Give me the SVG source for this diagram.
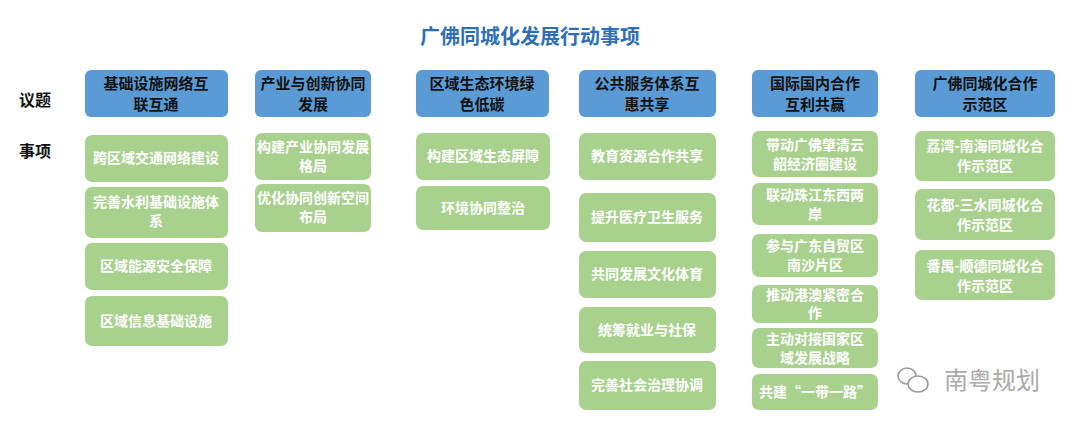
<svg xmlns="http://www.w3.org/2000/svg" width="1080" height="428" viewBox="0 0 1080 428">
<style>
text{font-family:"Noto Sans CJK SC","Liberation Sans",sans-serif;font-weight:bold;text-anchor:middle}
.h rect{fill:#5b9bd5}
.h text{fill:#111;font-size:15px}
.i rect{fill:#a9d18e}
.i text{fill:#fff;font-size:14px}
.lab{fill:#111;font-size:16px}
.wm{font-weight:normal;font-size:24px;fill:#aaa}
</style>
<rect width="1080" height="428" fill="#fff"/>
<text x="530" y="44" font-size="20" fill="#2e6fb5">广佛同城化发展行动事项</text>
<text class="lab" x="35" y="106">议题</text>
<text class="lab" x="35" y="157">事项</text>
<g class="h">
<g id="h1"><rect x="85" y="70" width="143" height="47" rx="6"/><text x="156" y="89">基础设施网络互</text><text x="156" y="110">联互通</text></g>
<g id="h2"><rect x="255" y="70" width="116" height="47" rx="6"/><text x="313" y="89">产业与创新协同</text><text x="313" y="110">发展</text></g>
<g id="h3"><rect x="416" y="70" width="133" height="47" rx="6"/><text x="482" y="89">区域生态环境绿</text><text x="482" y="110">色低碳</text></g>
<g id="h4"><rect x="579" y="70" width="137" height="47" rx="6"/><text x="647" y="89">公共服务体系互</text><text x="647" y="110">惠共享</text></g>
<g id="h5"><rect x="752" y="70" width="126" height="47" rx="6"/><text x="815" y="89">国际国内合作</text><text x="815" y="110">互利共赢</text></g>
<g id="h6"><rect x="915" y="70" width="140" height="47" rx="6"/><text x="985" y="89">广佛同城化合作</text><text x="985" y="110">示范区</text></g>
</g>
<g class="i">
<g id="a1"><rect x="85" y="135" width="143" height="47" rx="7"/><text x="156" y="163">跨区域交通网络建设</text></g>
<g id="a2"><rect x="85" y="187" width="143" height="51" rx="7"/><text x="156" y="207">完善水利基础设施体</text><text x="156" y="226">系</text></g>
<g id="a3"><rect x="85" y="243" width="143" height="47" rx="7"/><text x="156" y="271">区域能源安全保障</text></g>
<g id="a4"><rect x="85" y="296" width="143" height="50" rx="7"/><text x="156" y="326">区域信息基础设施</text></g>
<g id="b1"><rect x="255" y="133" width="116" height="47" rx="7"/><text x="313" y="152">构建产业协同发展</text><text x="313" y="171">格局</text></g>
<g id="b2"><rect x="255" y="184" width="116" height="48" rx="7"/><text x="313" y="203">优化协同创新空间</text><text x="313" y="222">布局</text></g>
<g id="c1"><rect x="416" y="133" width="134" height="47" rx="7"/><text x="483" y="161">构建区域生态屏障</text></g>
<g id="c2"><rect x="416" y="186" width="134" height="44" rx="7"/><text x="483" y="213">环境协同整治</text></g>
<g id="d1"><rect x="579" y="133" width="137" height="47" rx="7"/><text x="647" y="161">教育资源合作共享</text></g>
<g id="d2"><rect x="579" y="193" width="137" height="49" rx="7"/><text x="647" y="222">提升医疗卫生服务</text></g>
<g id="d3"><rect x="579" y="251" width="137" height="47" rx="7"/><text x="647" y="279">共同发展文化体育</text></g>
<g id="d4"><rect x="579" y="307" width="137" height="46" rx="7"/><text x="647" y="335">统筹就业与社保</text></g>
<g id="d5"><rect x="579" y="361" width="137" height="49" rx="7"/><text x="647" y="390">完善社会治理协调</text></g>
<g id="e1"><rect x="752" y="131" width="126" height="46" rx="7"/><text x="815" y="150">带动广佛肇清云</text><text x="815" y="169">韶经济圈建设</text></g>
<g id="e2"><rect x="752" y="183" width="126" height="42" rx="7"/><text x="815" y="200">联动珠江东西两</text><text x="815" y="219">岸</text></g>
<g id="e3"><rect x="752" y="234" width="126" height="43" rx="7"/><text x="815" y="251">参与广东自贸区</text><text x="815" y="270">南沙片区</text></g>
<g id="e4"><rect x="752" y="285" width="126" height="38" rx="7"/><text x="815" y="300">推动港澳紧密合</text><text x="815" y="318">作</text></g>
<g id="e5"><rect x="752" y="328" width="126" height="40" rx="7"/><text x="815" y="344">主动对接国家区</text><text x="815" y="363">域发展战略</text></g>
<g id="e6"><rect x="752" y="374" width="126" height="36" rx="7"/><text x="815" y="397">共建“一带一路”</text></g>
<g id="f1"><rect x="915" y="131" width="140" height="50" rx="7"/><text x="985" y="151">荔湾-南海同城化合</text><text x="985" y="171">作示范区</text></g>
<g id="f2"><rect x="915" y="189" width="140" height="51" rx="7"/><text x="985" y="210">花都-三水同城化合</text><text x="985" y="230">作示范区</text></g>
<g id="f3"><rect x="915" y="250" width="140" height="50" rx="7"/><text x="985" y="271">番禺-顺德同城化合</text><text x="985" y="291">作示范区</text></g>
</g>
<g id="connectors"></g>
<g id="watermark" fill="none" stroke="#999" stroke-width="1.5">
<ellipse cx="907" cy="376" rx="9" ry="8"/>
<ellipse cx="918" cy="384" rx="10" ry="8" fill="#fff"/>
<text class="wm" x="992" y="389" stroke="none">南粤规划</text>
</g>
</svg>
